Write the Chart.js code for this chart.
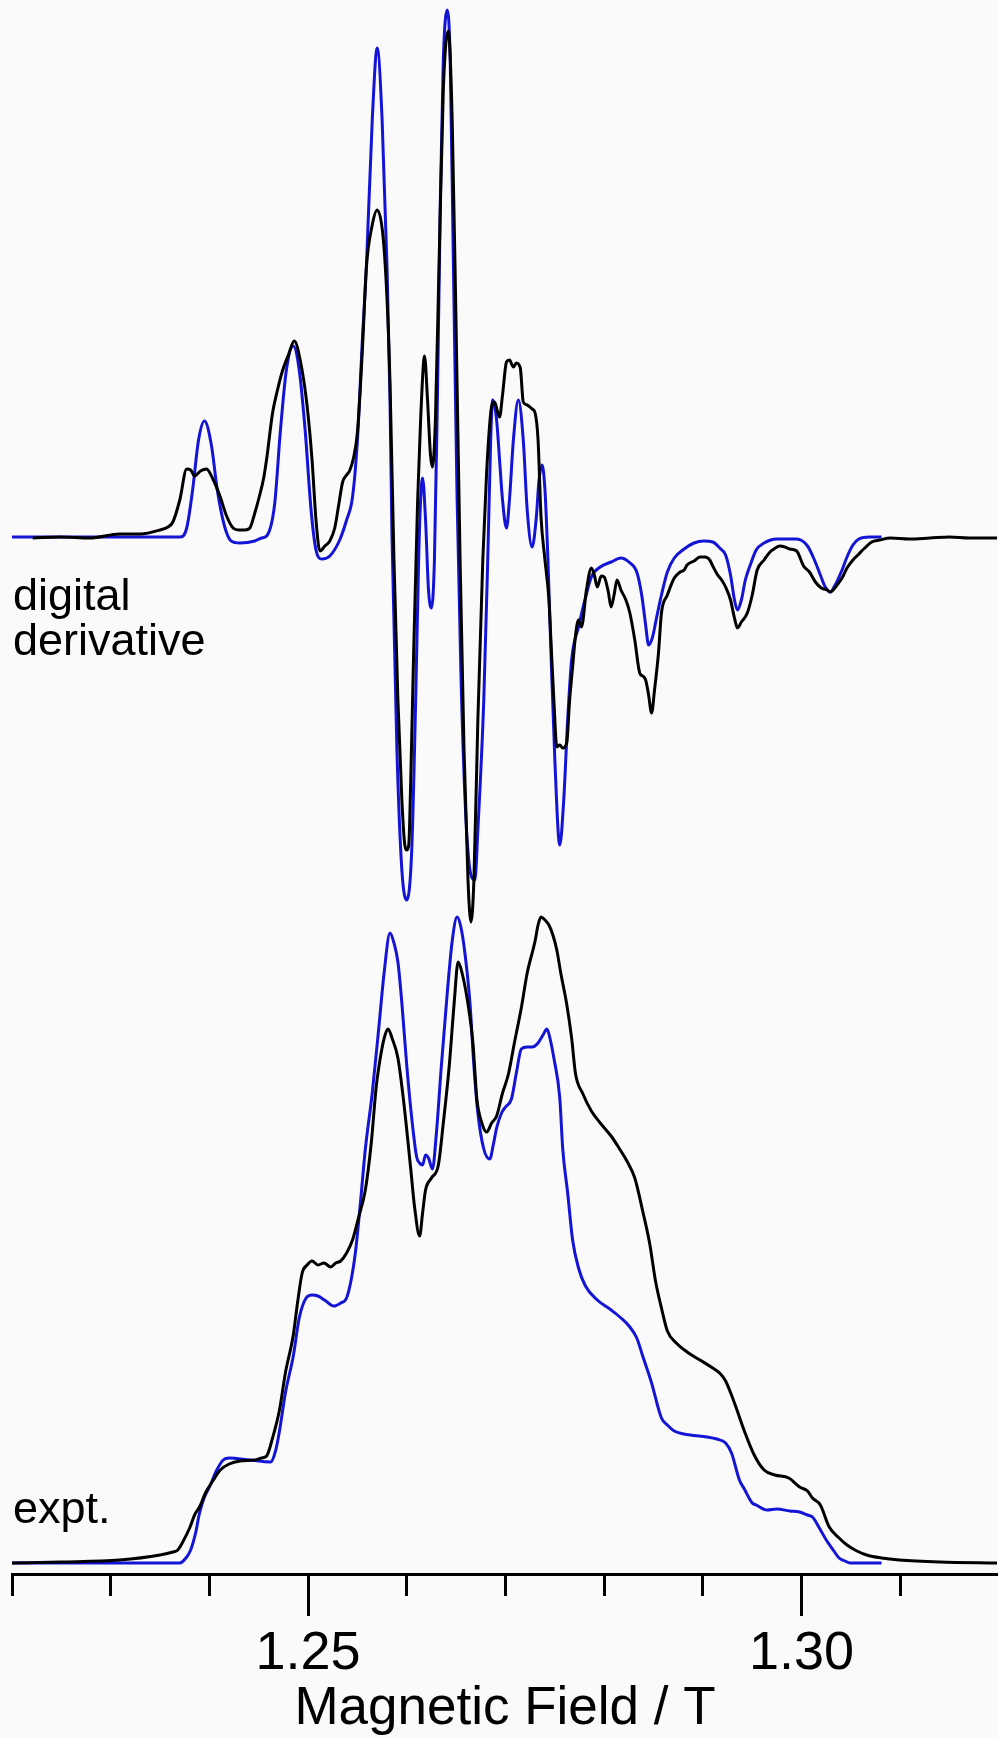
<!DOCTYPE html>
<html><head><meta charset="utf-8">
<script src="https://cdn.jsdelivr.net/npm/chart.js@4.4.0/dist/chart.umd.min.js"></script>
<style>
html,body{margin:0;padding:0;background:#fafafa;}
#wrap{position:relative;width:998px;height:1738px;overflow:hidden;}
canvas{position:absolute;left:0;top:0;}
.lbl{position:absolute;left:13px;font-family:"Liberation Sans",Arial,sans-serif;font-size:45px;line-height:45px;color:#000;white-space:nowrap;}
</style></head><body>
<div id="wrap"><canvas id="c" width="998" height="1738"></canvas>
<div class="lbl" style="top:572px">digital<br>derivative</div>
<div class="lbl" style="top:1485px">expt.</div>
</div>
<script>
// Field values (T) and intensities (arbitrary units)
const fieldDerivSim = [1.2200,1.2363,1.2370,1.2377,1.2383,1.2389,1.2395,1.2402,1.2408,1.2415,1.2422,1.2431,1.2446,1.2453,1.2458,1.2466,1.2472,1.2478,1.2485,1.2491,1.2497,1.2503,1.2508,1.2514,1.2522,1.2532,1.2539,1.2545,1.2550,1.2555,1.2559,1.2565,1.2570,1.2575,1.2580,1.2583,1.2585,1.2590,1.2595,1.2600,1.2605,1.2609,1.2612,1.2614,1.2616,1.2619,1.2622,1.2625,1.2628,1.2631,1.2634,1.2637,1.2641,1.2644,1.2647,1.2651,1.2655,1.2660,1.2665,1.2669,1.2672,1.2678,1.2682,1.2685,1.2687,1.2691,1.2694,1.2697,1.2701,1.2704,1.2708,1.2713,1.2718,1.2722,1.2727,1.2731,1.2734,1.2737,1.2740,1.2743,1.2746,1.2750,1.2755,1.2759,1.2763,1.2767,1.2774,1.2781,1.2787,1.2796,1.2807,1.2817,1.2825,1.2833,1.2838,1.2842,1.2845,1.2849,1.2853,1.2858,1.2864,1.2871,1.2881,1.2891,1.2901,1.2910,1.2917,1.2923,1.2928,1.2932,1.2935,1.2939,1.2943,1.2948,1.2954,1.2962,1.2975,1.2995,1.3006,1.3013,1.3019,1.3024,1.3029,1.3034,1.3041,1.3046,1.3052,1.3058,1.3069,1.3081];
const derivSim = [0,0,0,9,47,97,116,92,47,12,-4,-6,-4,-1,1,32,107,167,191,167,107,27,-13,-22,-19,-3,17,40,97,197,269,417,489,417,269,137,1,-213,-333,-363,-313,-163,-23,37,59,17,-53,-71,-23,137,337,477,527,477,287,37,-143,-283,-338,-343,-293,-163,-23,97,137,117,77,37,9,37,97,137,97,27,-10,17,57,72,47,-23,-113,-223,-308,-263,-183,-123,-90,-61,-40,-30,-25,-21,-25,-35,-58,-88,-108,-100,-81,-58,-35,-21,-12,-6,-4,-5,-11,-18,-38,-63,-73,-63,-43,-28,-13,-6,-2,-2,-9,-23,-38,-50,-55,-48,-33,-20,-8,-2,0,0];

const fieldDerivExpt = [1.2221,1.2249,1.2279,1.2309,1.2330,1.2350,1.2358,1.2363,1.2370,1.2377,1.2381,1.2385,1.2391,1.2397,1.2404,1.2411,1.2417,1.2424,1.2430,1.2436,1.2441,1.2446,1.2451,1.2455,1.2458,1.2464,1.2469,1.2474,1.2480,1.2486,1.2492,1.2499,1.2504,1.2508,1.2512,1.2517,1.2522,1.2527,1.2531,1.2535,1.2539,1.2542,1.2546,1.2550,1.2555,1.2559,1.2565,1.2570,1.2576,1.2580,1.2583,1.2587,1.2591,1.2595,1.2598,1.2600,1.2602,1.2604,1.2607,1.2611,1.2614,1.2618,1.2621,1.2624,1.2626,1.2629,1.2633,1.2637,1.2642,1.2646,1.2650,1.2654,1.2658,1.2662,1.2665,1.2668,1.2672,1.2677,1.2681,1.2686,1.2689,1.2692,1.2694,1.2697,1.2701,1.2704,1.2708,1.2711,1.2715,1.2718,1.2722,1.2727,1.2730,1.2733,1.2736,1.2740,1.2744,1.2746,1.2749,1.2752,1.2755,1.2758,1.2762,1.2765,1.2768,1.2771,1.2774,1.2777,1.2782,1.2787,1.2790,1.2793,1.2797,1.2800,1.2804,1.2807,1.2810,1.2813,1.2817,1.2822,1.2826,1.2831,1.2836,1.2839,1.2842,1.2845,1.2848,1.2851,1.2855,1.2858,1.2864,1.2871,1.2877,1.2881,1.2884,1.2891,1.2897,1.2902,1.2907,1.2910,1.2915,1.2919,1.2923,1.2928,1.2932,1.2935,1.2939,1.2945,1.2950,1.2955,1.2962,1.2968,1.2972,1.2978,1.2983,1.2988,1.2995,1.3002,1.3008,1.3014,1.3020,1.3026,1.3029,1.3032,1.3036,1.3041,1.3046,1.3052,1.3057,1.3064,1.3071,1.3079,1.3090,1.3109,1.3130,1.3150,1.3170,1.3198];
const derivExpt = [-1,0,-1,3,3,7,10,15,37,68,67,61,66,68,57,40,22,9,7,7,9,24,42,59,78,124,147,166,182,196,177,131,77,17,-14,-9,-4,9,32,55,62,66,79,105,187,269,312,327,300,237,154,-23,-163,-263,-308,-313,-308,-243,-113,37,117,181,137,82,70,117,287,447,506,417,207,-23,-213,-343,-385,-343,-183,-23,67,131,135,125,120,142,175,177,170,174,169,135,132,128,124,97,20,-23,-63,-103,-163,-210,-208,-211,-206,-163,-130,-98,-83,-90,-53,-31,-38,-50,-39,-40,-54,-70,-58,-43,-53,-63,-76,-103,-136,-139,-143,-158,-176,-153,-116,-76,-58,-41,-35,-33,-28,-24,-20,-20,-23,-29,-38,-43,-50,-63,-81,-91,-85,-76,-58,-33,-23,-15,-12,-9,-10,-12,-14,-29,-35,-45,-51,-53,-55,-53,-48,-41,-31,-23,-18,-11,-5,-3,-1,-2,-1,0,-1,-1];

const fieldAbsSim = [1.2200,1.2370,1.2377,1.2381,1.2386,1.2390,1.2395,1.2401,1.2407,1.2414,1.2420,1.2441,1.2462,1.2467,1.2471,1.2477,1.2485,1.2491,1.2498,1.2504,1.2510,1.2518,1.2526,1.2533,1.2539,1.2544,1.2548,1.2553,1.2558,1.2565,1.2572,1.2577,1.2583,1.2587,1.2591,1.2595,1.2600,1.2605,1.2610,1.2613,1.2616,1.2619,1.2622,1.2626,1.2630,1.2635,1.2641,1.2646,1.2651,1.2655,1.2659,1.2664,1.2668,1.2672,1.2678,1.2684,1.2688,1.2691,1.2696,1.2700,1.2706,1.2711,1.2716,1.2722,1.2727,1.2733,1.2738,1.2742,1.2745,1.2749,1.2755,1.2758,1.2763,1.2768,1.2774,1.2781,1.2793,1.2807,1.2817,1.2826,1.2833,1.2839,1.2848,1.2858,1.2864,1.2871,1.2887,1.2904,1.2914,1.2923,1.2929,1.2937,1.2942,1.2950,1.2954,1.2965,1.2975,1.2988,1.2998,1.3006,1.3011,1.3018,1.3025,1.3032,1.3038,1.3044,1.3049,1.3081];
const absSim = [0,0,6,13,30,50,66,78,92,103,105,103,101,112,132,170,207,245,265,268,267,262,257,260,265,285,311,360,414,470,539,590,630,620,601,560,497,445,406,400,398,408,405,394,430,497,570,622,646,635,609,560,497,450,414,404,420,435,450,456,464,490,514,516,516,520,528,534,525,505,465,414,370,323,295,277,263,253,245,236,225,207,180,145,138,132,128,126,124,120,110,83,74,60,58,53,54,52,51,48,46,35,23,13,5,2,0,0];

const fieldAbsExpt = [1.2200,1.2249,1.2309,1.2350,1.2363,1.2368,1.2373,1.2380,1.2385,1.2390,1.2396,1.2404,1.2411,1.2420,1.2431,1.2446,1.2453,1.2458,1.2464,1.2471,1.2477,1.2485,1.2489,1.2494,1.2499,1.2504,1.2510,1.2516,1.2523,1.2528,1.2533,1.2539,1.2545,1.2551,1.2558,1.2564,1.2569,1.2574,1.2578,1.2581,1.2585,1.2591,1.2597,1.2604,1.2608,1.2613,1.2616,1.2619,1.2625,1.2632,1.2637,1.2643,1.2648,1.2652,1.2656,1.2662,1.2667,1.2671,1.2676,1.2681,1.2686,1.2691,1.2697,1.2703,1.2709,1.2716,1.2722,1.2730,1.2733,1.2736,1.2740,1.2744,1.2748,1.2752,1.2756,1.2762,1.2767,1.2771,1.2778,1.2787,1.2796,1.2807,1.2815,1.2823,1.2831,1.2839,1.2846,1.2852,1.2858,1.2864,1.2873,1.2884,1.2897,1.2910,1.2917,1.2923,1.2932,1.2942,1.2952,1.2962,1.2973,1.2987,1.2998,1.3006,1.3011,1.3019,1.3028,1.3038,1.3046,1.3056,1.3066,1.3081,1.3099,1.3140,1.3198];
const absExpt = [0,1,3,8,11,13,21,35,48,56,70,83,93,99,102,103,105,107,125,153,190,228,258,290,298,302,298,300,296,300,302,310,323,345,373,420,476,510,528,534,525,505,460,394,355,327,350,373,385,398,440,497,560,601,590,559,520,464,440,431,440,447,470,489,520,555,590,622,638,646,643,638,628,613,590,559,525,489,470,452,440,427,415,402,385,352,320,282,255,232,220,211,203,195,190,182,160,132,108,93,88,85,76,72,65,58,36,25,18,12,8,5,3,1,0];

const tickValues = [1.22,1.23,1.24,1.25,1.26,1.27,1.28,1.29,1.30,1.31];
const majorTickLabels = ['1.25','1.30'];
const xTitle = 'Magnetic Field / T';

const BLUE = '#1414d6';
const FONT = '"Liberation Sans", Arial, sans-serif';
const pts = (xs, ys) => xs.map((x, i) => ({x: x, y: ys[i]}));
const isMajor = v => majorTickLabels.includes(Number(v).toFixed(2));

new Chart(document.getElementById('c').getContext('2d'), {
  type: 'line',
  data: {
    datasets: [
      {data: pts(fieldDerivExpt, derivExpt), yAxisID: 'yD', borderColor: '#000', borderWidth: 3},
      {data: pts(fieldAbsExpt, absExpt), yAxisID: 'yA', borderColor: '#000', borderWidth: 3},
      {data: pts(fieldDerivSim, derivSim), yAxisID: 'yD', borderColor: BLUE, borderWidth: 3},
      {data: pts(fieldAbsSim, absSim), yAxisID: 'yA', borderColor: BLUE, borderWidth: 3}
    ]
  },
  options: {
    responsive: false,
    animation: false,
    devicePixelRatio: 1,
    layout: {padding: {left: 12, right: 0, top: 8, bottom: 0}},
    plugins: {legend: {display: false}, tooltip: {enabled: false}},
    elements: {point: {radius: 0}, line: {cubicInterpolationMode: 'monotone', fill: false}},
    scales: {
      x: {
        type: 'linear', position: 'bottom', min: 1.22, max: 1.3199,
        afterBuildTicks: s => { s.ticks = tickValues.map(v => ({value: v})); },
        afterFit: s => { s.height = 164; },
        border: {display: true, color: '#000', width: 3},
        grid: {
          drawOnChartArea: false, drawTicks: true, tickLength: 42, tickWidth: 3, tickColor: '#000',
          tickBorderDash: c => (c.tick && isMajor(c.tick.value)) ? [] : [20, 200]
        },
        ticks: {
          autoSkip: false, maxRotation: 0, minRotation: 0, padding: 11, color: '#000',
          font: {family: FONT, size: 54, lineHeight: 1},
          callback: v => isMajor(v) ? Number(v).toFixed(2) : ''
        },
        title: {display: true, text: xTitle, color: '#000', font: {family: FONT, size: 53, lineHeight: 1}, padding: {top: 0, bottom: 2}}
      },
      yD: {type: 'linear', display: false, min: -1037, max: 529},
      yA: {type: 'linear', display: false, min: -11, max: 1555}
    }
  }
});
</script>
</body></html>
